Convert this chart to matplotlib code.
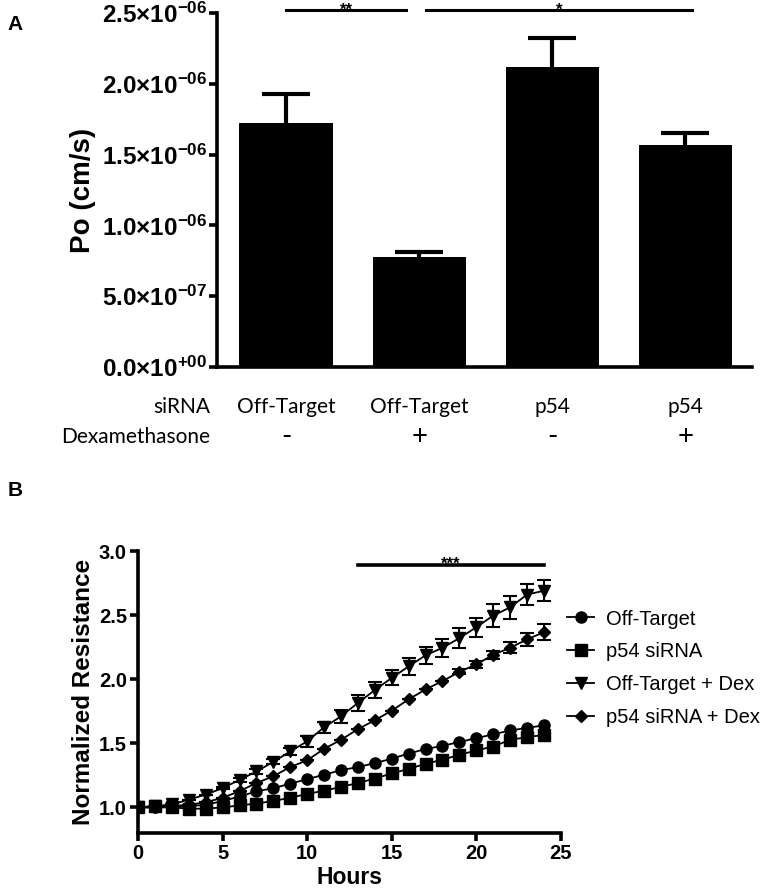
import numpy as np
import matplotlib
matplotlib.use('Agg')
import matplotlib.pyplot as plt
from matplotlib.lines import Line2D

plt.rcParams['font.family'] = ['Liberation Sans', 'DejaVu Sans']
plt.rcParams['mathtext.fontset'] = 'custom'
plt.rcParams['mathtext.rm'] = 'Liberation Sans'
plt.rcParams['mathtext.bf'] = 'Liberation Sans:bold'

# Panel A data
groups = ['Off-Target', 'Off-Target', 'p54', 'p54']
dex = ['-', '+', '-', '+']
po_mean = [1.72e-6, 0.775e-6, 2.12e-6, 1.57e-6]
po_sem = [0.21e-6, 0.035e-6, 0.205e-6, 0.085e-6]
sig_a = [(0, 0.9, '**'), (1.05, 3.05, '*')]

# Panel B data
hours = np.arange(0, 25)
off_target = [1.0, 1.0, 1.0, 1.01, 1.02, 1.05, 1.085, 1.125, 1.15, 1.185, 1.22, 1.255,
              1.29, 1.315, 1.345, 1.38, 1.42, 1.455, 1.48, 1.51, 1.54, 1.57, 1.6, 1.62, 1.64]
p54 = [1.0, 1.01, 1.0, 0.99, 0.99, 1.0, 1.015, 1.03, 1.05, 1.075, 1.105, 1.13, 1.16,
       1.19, 1.225, 1.265, 1.3, 1.34, 1.372, 1.41, 1.444, 1.475, 1.527, 1.548, 1.565]
off_dex = [1.0, 1.01, 1.023, 1.06, 1.1, 1.15, 1.215, 1.28, 1.355, 1.437, 1.515, 1.625,
           1.71, 1.815, 1.915, 2.01, 2.1, 2.186, 2.245, 2.32, 2.405, 2.496, 2.56, 2.66, 2.69]
off_dex_err = [0, 0, 0, 0, 0, 0.01, 0.015, 0.02, 0.02, 0.03, 0.04, 0.045, 0.05, 0.06,
               0.065, 0.058, 0.067, 0.068, 0.068, 0.08, 0.075, 0.09, 0.087, 0.085, 0.08]
p54_dex = [1.0, 1.0, 1.01, 1.02, 1.04, 1.075, 1.127, 1.19, 1.243, 1.315, 1.367, 1.457,
           1.527, 1.61, 1.68, 1.754, 1.843, 1.92, 1.985, 2.057, 2.116, 2.19, 2.245, 2.31, 2.367]
p54_dex_err = [0, 0, 0, 0, 0, 0, 0, 0, 0, 0, 0, 0, 0, 0, 0, 0, 0, 0, 0, 0.02, 0.025,
               0.03, 0.043, 0.05, 0.062]
series_labels = ['Off-Target', 'p54 siRNA', 'Off-Target + Dex', 'p54 siRNA + Dex']

fig = plt.figure(figsize=(7.8, 8.88), dpi=100)

# ---- Panel A ----
ax = fig.add_axes([0.278, 0.5867, 0.686, 0.3987])
x = np.arange(len(po_mean))
ax.bar(x, po_mean, width=0.7, color='black')
_, caps, _ = ax.errorbar(x, po_mean, yerr=[np.zeros(4), po_sem], fmt='none', ecolor='black',
                         elinewidth=3, capsize=17, capthick=3)
for cl in caps:
    if np.allclose(cl.get_ydata(), po_mean):
        cl.set_visible(False)
ax.set_xlim(-0.52, 3.5)
ax.set_ylim(0, 2.5e-6)
ax.set_yticks(np.arange(0, 2.51e-6, 0.5e-6))


def sci_label(v):
    if v == 0:
        return r'$\mathbf{0.0×10^{+00}}$'
    e = int(np.floor(np.log10(v)))
    m = v / 10 ** e
    return r'$\mathbf{%.1f×10^{-%02d}}$' % (m, -e)


ax.set_yticklabels([sci_label(v) for v in ax.get_yticks()], fontsize=17.5)
ax.set_xticks([])
for s in ['top', 'right']:
    ax.spines[s].set_visible(False)
for s in ['left', 'bottom']:
    ax.spines[s].set_linewidth(2.6)
ax.tick_params(axis='y', direction='out', length=6, width=2.6, pad=1)
ax.set_ylabel('Po (cm/s)', fontsize=20, fontweight='bold', labelpad=4)

for x0, x1, lab in sig_a:
    ax.plot([x0, x1], [2.52e-6, 2.52e-6], color='black', lw=2.2, clip_on=False)
    ax.text((x0 + x1) / 2, 2.49e-6, lab, ha='center', va='baseline', fontsize=12,
            fontweight='bold', clip_on=False)

trans = ax.get_xaxis_transform()
cat_font = dict(family=['Lato', 'DejaVu Sans'], fontsize=15)
ax.text(-0.013, -0.113, 'siRNA', transform=ax.transAxes, ha='right', va='center', **cat_font)
ax.text(-0.013, -0.198, 'Dexamethasone', transform=ax.transAxes, ha='right', va='center', **cat_font)
for i in range(len(groups)):
    ax.text(x[i], -0.113, groups[i], transform=trans, ha='center', va='center', **cat_font)
    ax.text(x[i], -0.198, dex[i], transform=trans, ha='center', va='center',
            family=['Lato', 'DejaVu Sans'], fontsize=20)

fig.text(0.01, 0.972, 'A', fontsize=15, fontweight='bold', va='center')
fig.text(0.01, 0.448, 'B', fontsize=15, fontweight='bold', va='center')

# ---- Panel B ----
bx = fig.add_axes([0.177, 0.0619, 0.542, 0.3176])
ms = 8
markers = ['o', 's', 'v', 'D']
sizes = [ms, ms, ms + 1, ms - 2]
bx.plot(hours, off_target, '-o', color='black', ms=ms, lw=1.3)
bx.plot(hours, p54, '-s', color='black', ms=ms, lw=1.3)
bx.errorbar(hours, off_dex, yerr=off_dex_err, fmt='-v', color='black', ms=ms + 1, lw=1.3,
            elinewidth=1.5, capsize=5, capthick=1.5)
bx.errorbar(hours, p54_dex, yerr=p54_dex_err, fmt='-D', color='black', ms=ms - 2, lw=1.3,
            elinewidth=1.5, capsize=5, capthick=1.5)
bx.set_xlim(0, 25)
bx.set_ylim(0.8, 3.0)
bx.set_xticks(np.arange(0, 26, 5))
bx.set_yticks(np.arange(1.0, 3.01, 0.5))
bx.set_yticklabels(['%.1f' % v for v in bx.get_yticks()])
for lab in bx.get_xticklabels() + bx.get_yticklabels():
    lab.set_fontweight('bold')
    lab.set_fontsize(14.5)
for s in ['top', 'right']:
    bx.spines[s].set_visible(False)
for s in ['left', 'bottom']:
    bx.spines[s].set_linewidth(2.6)
bx.tick_params(direction='out', length=6, width=2.6, pad=2)
bx.set_xlabel('Hours', fontsize=16.5, fontweight='bold', labelpad=2)
bx.set_ylabel('Normalized Resistance', fontsize=17.5, fontweight='bold', labelpad=3)

bx.plot([13, 24], [2.89, 2.89], color='black', lw=2.6)
bx.text(18.5, 2.858, '***', ha='center', va='baseline', fontsize=12, fontweight='bold')

handles = [Line2D([], [], color='black', marker=m, ms=s, lw=1.3) for m, s in zip(markers, sizes)]
fig.legend(handles, series_labels, loc='center left', bbox_to_anchor=(0.727, 0.2477),
           frameon=False, fontsize=14.5, handlelength=1.34, handletextpad=0.6,
           labelspacing=0.68, borderpad=0, borderaxespad=0)

fig.savefig('out.png', dpi=100)
